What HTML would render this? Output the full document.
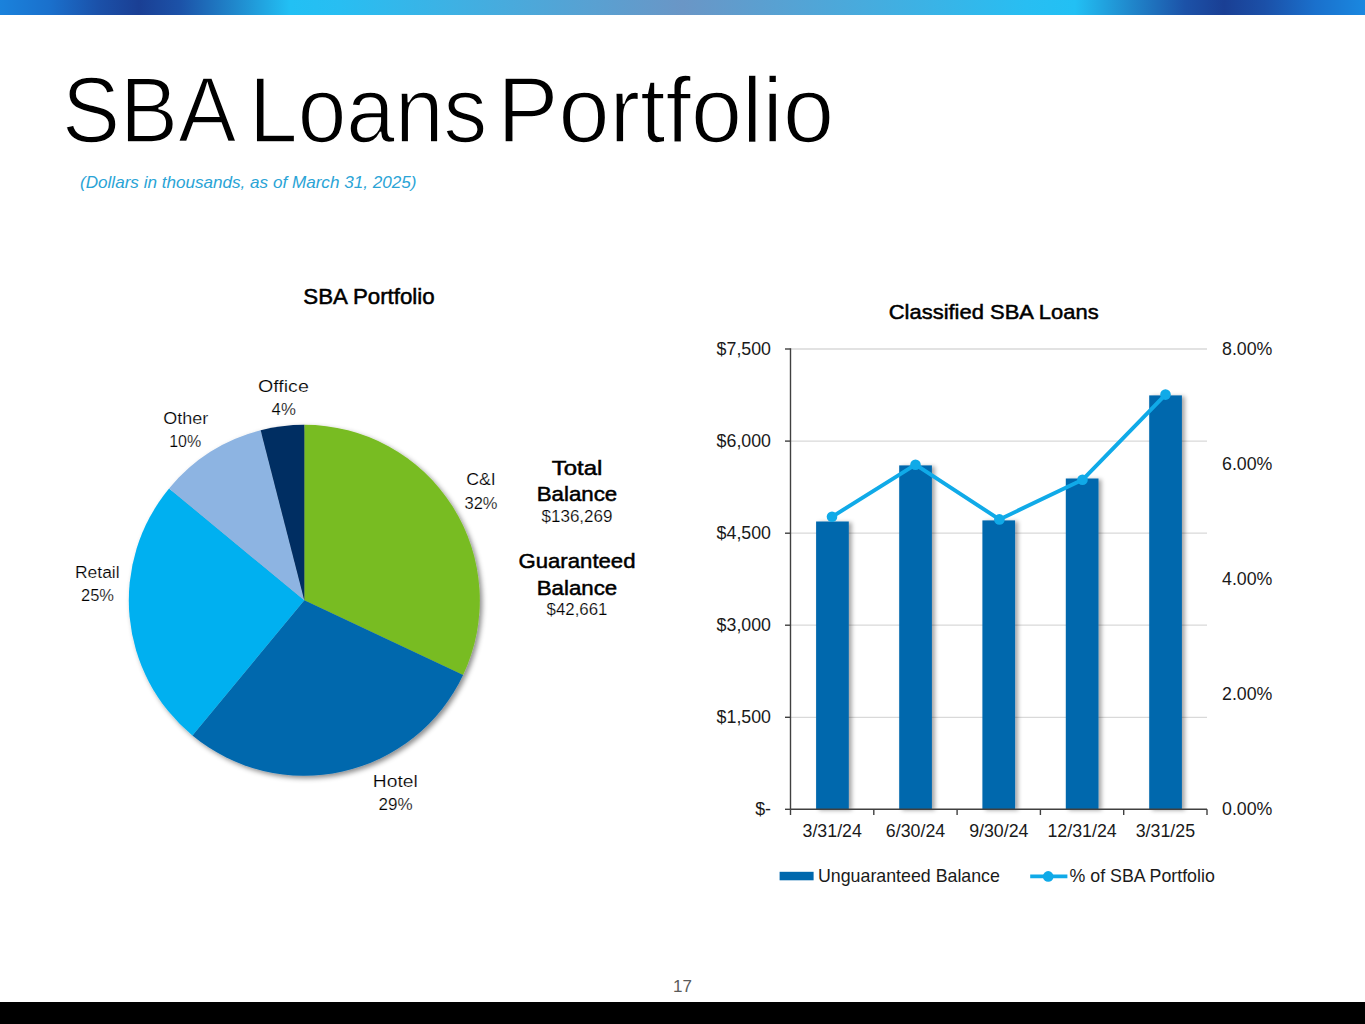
<!DOCTYPE html>
<html><head><meta charset="utf-8">
<style>
html,body{margin:0;padding:0;background:#fff;}
body{width:1365px;height:1024px;overflow:hidden;position:relative;font-family:"Liberation Sans",sans-serif;}
#topbar{position:absolute;left:0;top:0;width:1365px;height:15px;background:linear-gradient(90deg,#1a82dc 0px,#1a70cc 50px,#1b50a8 100px,#1a3f94 139px,#1c52a8 180px,#2088cc 235px,#22c0f4 290px,#28bef2 340px,#6a96c6 683px,#28bef2 1025px,#22c0f4 1075px,#2088cc 1130px,#1c52a8 1185px,#1a3f94 1224px,#1b50a8 1265px,#1a70cc 1315px,#1a88e0 1365px);}
#botbar{position:absolute;left:0;top:1002px;width:1365px;height:22px;background:#000;}
svg{position:absolute;left:0;top:0;}
</style></head><body>
<div id="topbar"></div>
<svg width="1365" height="1024" viewBox="0 0 1365 1024" font-family="Liberation Sans, sans-serif">
  <defs>
    <filter id="psh" x="-10%" y="-10%" width="130%" height="130%">
      <feDropShadow dx="2.5" dy="2.5" stdDeviation="2.5" flood-color="#000" flood-opacity="0.45"/>
    </filter>
    <filter id="bsh" x="-20%" y="-5%" width="160%" height="110%">
      <feDropShadow dx="3" dy="1" stdDeviation="2" flood-color="#000" flood-opacity="0.35"/>
    </filter>
  </defs>
  <!-- Title -->
  <g font-size="93.5" fill="#000" stroke="#fff" stroke-width="1.7">
  <text x="62.0" y="141.8" textLength="174.2" lengthAdjust="spacingAndGlyphs">SBA</text>
  <text x="249.1" y="141.8" textLength="238.2" lengthAdjust="spacingAndGlyphs">Loans</text>
  <text x="497.2" y="141.8" textLength="336.8" lengthAdjust="spacingAndGlyphs">Portfolio</text>
  </g>
  <text id="t_sub" x="80" y="187.6" font-size="17" font-style="italic" fill="#2aa4d6" textLength="336.4" lengthAdjust="spacingAndGlyphs">(Dollars in thousands, as of March 31, 2025)</text>

  <!-- Pie -->
  <text id="t_pt" x="369" y="303.9" font-size="22" stroke="#000" stroke-width="0.5" text-anchor="middle" fill="#000" textLength="131.4" lengthAdjust="spacingAndGlyphs">SBA Portfolio</text>
  <g filter="url(#psh)">
<path d="M304.3,600.3 L304.30,424.80 A175.5,175.5 0 0 1 463.10,675.02 Z" fill="#78bc21"/>
<path d="M304.3,600.3 L463.10,675.02 A175.5,175.5 0 0 1 192.43,735.53 Z" fill="#0068ad"/>
<path d="M304.3,600.3 L192.43,735.53 A175.5,175.5 0 0 1 169.07,488.43 Z" fill="#00b0f0"/>
<path d="M304.3,600.3 L169.07,488.43 A175.5,175.5 0 0 1 260.65,430.31 Z" fill="#8db4e2"/>
<path d="M304.3,600.3 L260.65,430.31 A175.5,175.5 0 0 1 304.30,424.80 Z" fill="#002d62"/>
  </g>
  <g font-size="16" fill="#000" text-anchor="middle" stroke="#fff" stroke-width="0.2">
    <text x="283.4" y="392.3" textLength="51" lengthAdjust="spacingAndGlyphs">Office</text><text x="283.7" y="415" textLength="24.2" lengthAdjust="spacingAndGlyphs">4%</text>
    <text x="185.7" y="423.5" textLength="45" lengthAdjust="spacingAndGlyphs">Other</text><text x="185.2" y="446.9">10%</text>
    <text x="97.3" y="577.5" textLength="44.7" lengthAdjust="spacingAndGlyphs">Retail</text><text x="97.5" y="601" textLength="33" lengthAdjust="spacingAndGlyphs">25%</text>
    <text x="481" y="485.2" textLength="29.6" lengthAdjust="spacingAndGlyphs">C&amp;I</text><text x="481" y="508.6" textLength="33" lengthAdjust="spacingAndGlyphs">32%</text>
    <text x="395.3" y="787" textLength="44.9" lengthAdjust="spacingAndGlyphs">Hotel</text><text x="395.5" y="810.3" textLength="34.1" lengthAdjust="spacingAndGlyphs">29%</text>
  </g>
  <g text-anchor="middle" fill="#000">
    <text x="577" y="474.7" font-size="21" stroke="#000" stroke-width="0.5" textLength="50.7" lengthAdjust="spacingAndGlyphs">Total</text>
    <text x="577" y="500.7" font-size="21" stroke="#000" stroke-width="0.5" textLength="80.5" lengthAdjust="spacingAndGlyphs">Balance</text>
    <text x="577" y="521.6" font-size="16" fill="#000" stroke="#fff" stroke-width="0.2" textLength="71" lengthAdjust="spacingAndGlyphs">$136,269</text>
    <text x="577" y="568.4" font-size="21" stroke="#000" stroke-width="0.5" textLength="117" lengthAdjust="spacingAndGlyphs">Guaranteed</text>
    <text x="577" y="594.6" font-size="21" stroke="#000" stroke-width="0.5" textLength="80.5" lengthAdjust="spacingAndGlyphs">Balance</text>
    <text x="577" y="615.4" font-size="16" fill="#000" stroke="#fff" stroke-width="0.2" textLength="60.9" lengthAdjust="spacingAndGlyphs">$42,661</text>
  </g>

  <!-- Bar chart -->
  <text id="t_ct" x="993.7" y="318.7" font-size="21" stroke="#000" stroke-width="0.5" text-anchor="middle" fill="#000" textLength="209.9" lengthAdjust="spacingAndGlyphs">Classified SBA Loans</text>
  <g stroke="#d9d9d9" stroke-width="1.3">
    <line x1="790.5" y1="349" x2="1207" y2="349"/>
    <line x1="790.5" y1="441.1" x2="1207" y2="441.1"/>
    <line x1="790.5" y1="533.2" x2="1207" y2="533.2"/>
    <line x1="790.5" y1="625.2" x2="1207" y2="625.2"/>
    <line x1="790.5" y1="717.3" x2="1207" y2="717.3"/>
  </g>
  <g fill="#0068ad" filter="url(#bsh)">
    <rect x="816.1" y="521.5" width="32.7" height="287.8"/>
    <rect x="899.2" y="465.4" width="32.7" height="343.9"/>
    <rect x="982.4" y="520.4" width="32.7" height="288.9"/>
    <rect x="1065.8" y="478.5" width="32.7" height="330.8"/>
    <rect x="1149.2" y="395.4" width="32.7" height="413.9"/>
  </g>
  <g stroke="#404040" stroke-width="1.4" fill="none">
    <line x1="790.5" y1="348.3" x2="790.5" y2="809.3"/>
    <line x1="790.5" y1="809.3" x2="1207" y2="809.3"/>
    <line x1="785" y1="349" x2="790.5" y2="349"/>
    <line x1="785" y1="441.1" x2="790.5" y2="441.1"/>
    <line x1="785" y1="533.2" x2="790.5" y2="533.2"/>
    <line x1="785" y1="625.2" x2="790.5" y2="625.2"/>
    <line x1="785" y1="717.3" x2="790.5" y2="717.3"/>
    <line x1="785" y1="809.3" x2="790.5" y2="809.3"/>
    <line x1="790.5" y1="809.3" x2="790.5" y2="815"/>
    <line x1="873.8" y1="809.3" x2="873.8" y2="815"/>
    <line x1="957.1" y1="809.3" x2="957.1" y2="815"/>
    <line x1="1040.4" y1="809.3" x2="1040.4" y2="815"/>
    <line x1="1123.7" y1="809.3" x2="1123.7" y2="815"/>
    <line x1="1207" y1="809.3" x2="1207" y2="815"/>
  </g>
  <polyline points="832,516.8 915.5,464.7 999.4,519.4 1082.5,479.8 1165.5,394.6" fill="none" stroke="#10aae8" stroke-width="3.9" stroke-linejoin="round"/>
  <g fill="#10aae8">
    <circle cx="832" cy="516.8" r="5.3"/>
    <circle cx="915.5" cy="464.7" r="5.3"/>
    <circle cx="999.4" cy="519.4" r="5.3"/>
    <circle cx="1082.5" cy="479.8" r="5.3"/>
    <circle cx="1165.5" cy="394.6" r="5.3"/>
  </g>
  <g font-size="17.8" fill="#1a1a1a" text-anchor="end">
    <text x="771" y="354.7">$7,500</text>
    <text x="771" y="446.8">$6,000</text>
    <text x="771" y="538.9">$4,500</text>
    <text x="771" y="630.9">$3,000</text>
    <text x="771" y="723.0">$1,500</text>
    <text x="771" y="815.0">$-</text>
  </g>
  <g font-size="17.8" fill="#1a1a1a" text-anchor="start">
    <text x="1222" y="354.7">8.00%</text>
    <text x="1222" y="469.8">6.00%</text>
    <text x="1222" y="584.9">4.00%</text>
    <text x="1222" y="699.9">2.00%</text>
    <text x="1222" y="815.0">0.00%</text>
  </g>
  <g font-size="17.8" fill="#1a1a1a" text-anchor="middle">
    <text x="832.2" y="836.5">3/31/24</text>
    <text x="915.5" y="836.5">6/30/24</text>
    <text x="998.8" y="836.5">9/30/24</text>
    <text x="1082.1" y="836.5">12/31/24</text>
    <text x="1165.4" y="836.5">3/31/25</text>
  </g>
  <rect x="779.6" y="871.8" width="34" height="8.5" fill="#0068ad"/>
  <text x="818" y="881.9" font-size="17.8" fill="#1a1a1a">Unguaranteed Balance</text>
  <line x1="1030.2" y1="876.4" x2="1067.4" y2="876.4" stroke="#10aae8" stroke-width="3.9"/>
  <circle cx="1048.2" cy="876.4" r="5.3" fill="#10aae8"/>
  <text x="1069.5" y="881.9" font-size="17.8" fill="#1a1a1a">% of SBA Portfolio</text>

  <text x="682.5" y="991.9" font-size="17" fill="#5a5a5a" text-anchor="middle">17</text>
</svg>
<div id="botbar"></div>
</body></html>
